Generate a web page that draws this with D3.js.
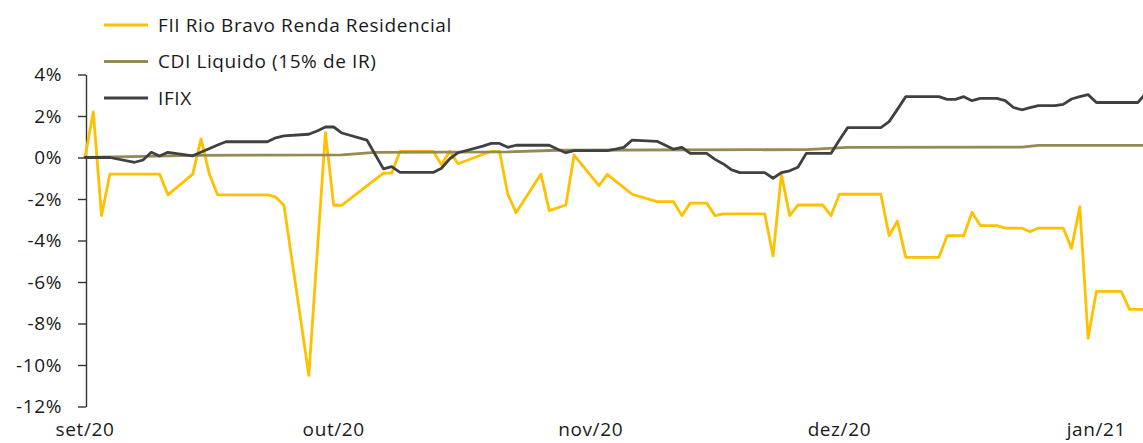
<!DOCTYPE html>
<html><head><meta charset="utf-8">
<script src="https://cdn.jsdelivr.net/npm/d3@7"></script>
<style>body{margin:0;background:#fff} svg{display:block}</style>
</head><body><svg id="c" width="1143" height="443"></svg>
<script>
const seriesNames = ["FII Rio Bravo Renda Residencial", "CDI Liquido (15% de IR)", "IFIX"];
const seriesColors = ["#FFC000", "#948A54", "#404040"];
// one entry per calendar day of each month (null = no point, the line passes straight through)
const monthStarts = ["2020-09-01", "2020-10-01", "2020-11-01", "2020-12-01", "2021-01-01"];

const fiiSep = [0, 2.2, -2.8, -0.8, -0.8, -0.8, -0.8, -0.8, -0.8, -0.8, -1.8, null, null, -0.8, 0.9, -0.8, -1.8, -1.8, -1.8, -1.8, -1.8, -1.8, -1.8, -1.9, -2.3, null, null, -10.5, null, 1.2];
const fiiOct = [-2.3, -2.3, null, null, null, null, -0.75, -0.75, 0.3, 0.3, 0.3, 0.3, 0.3, -0.35, 0.3, -0.3, null, null, null, 0.3, 0.3, -1.77, -2.66, null, null, -0.8, -2.56, null, -2.29, 0.12, null];
const fiiNov = [null, -1.36, -0.81, null, null, -1.77, null, null, -2.13, -2.13, -2.13, -2.8, -2.2, -2.2, -2.2, -2.8, -2.72, -2.72, -2.72, -2.72, -2.72, -2.72, -4.75, -0.8, -2.8, -2.29, -2.29, -2.29, -2.29, -2.8];
const fiiDec = [-1.77, -1.77, -1.77, -1.77, -1.77, -1.77, -3.77, -3.06, -4.81, -4.81, -4.81, -4.81, -4.81, -3.77, -3.77, -3.77, -2.64, -3.28, -3.28, -3.28, -3.4, -3.4, -3.4, -3.58, -3.4, -3.4, -3.4, -3.4, -4.38, -2.37, -8.71];
const fiiJan = [-6.45, -6.45, -6.45, -6.45, -7.32, -7.32, -7.32];

const cdiSep = [0, null, null, null, null, null, null, 0.05, null, null, null, null, null, 0.1, null, null, null, null, null, null, null, null, null, null, null, null, null, null, null, null];
const cdiOct = [null, 0.13, null, null, null, 0.25, null, null, null, null, null, null, null, null, null, null, null, null, null, null, null, 0.27, null, null, null, null, null, 0.35, null, null, null];
const cdiNov = [null, null, null, null, null, null, null, null, null, null, null, null, null, null, null, null, null, null, null, null, null, null, null, null, null, null, 0.38, null, null, null];
const cdiDec = [null, 0.49, null, null, null, null, null, null, null, null, null, null, null, null, null, null, null, null, null, null, null, null, 0.5, null, 0.58, null, null, null, null, null, null];
const cdiJan = [null, null, null, null, null, null, 0.58];

const ifixSep = [0, 0, 0, 0, null, null, -0.23, -0.12, 0.25, 0.07, 0.25, null, null, 0.08, null, null, 0.6, 0.76, 0.76, 0.76, 0.76, 0.76, 0.76, 0.95, 1.04, null, null, 1.12, 1.28, 1.47];
const ifixOct = [1.47, 1.18, null, null, 0.84, null, -0.55, -0.44, -0.72, -0.72, -0.72, -0.72, -0.72, -0.52, -0.06, 0.23, null, null, 0.55, 0.68, 0.68, 0.49, 0.59, 0.59, 0.59, 0.59, 0.59, 0.4, 0.23, 0.33, 0.33];
const ifixNov = [0.33, 0.33, 0.33, 0.4, 0.49, 0.84, null, null, 0.78, null, 0.4, 0.49, 0.2, 0.2, 0.2, -0.09, -0.31, -0.6, -0.73, -0.73, -0.73, -0.73, -1.0, -0.73, -0.64, -0.47, 0.2, 0.2, 0.2, 0.2];
const ifixDec = [0.84, 1.44, 1.44, 1.44, 1.44, 1.44, 1.73, 2.32, 2.93, 2.93, 2.93, 2.93, 2.93, 2.8, 2.8, 2.93, 2.74, 2.85, 2.85, 2.85, 2.74, 2.41, 2.3, 2.4, 2.5, 2.5, 2.5, 2.56, 2.82, 2.93, 3.03];
const ifixJan = [2.65, 2.65, 2.65, 2.65, 2.65, 2.65, 3.1];

const yTicks = [-12, -10, -8, -6, -4, -2, 0, 2, 4];
const xTickDates = ["2020-09-01", "2020-10-01", "2020-11-01", "2020-12-01", "2021-01-01"];
const xTickLabels = ["set/20", "out/20", "nov/20", "dez/20", "jan/21"];

const parse = d3.timeParse("%Y-%m-%d");
function build(months) {
  const out = [];
  months.forEach((arr, m) => {
    const s = parse(monthStarts[m]);
    arr.forEach((v, i) => { if (v !== null) out.push({ date: d3.timeDay.offset(s, i), v }); });
  });
  return out;
}
const series = [
  build([fiiSep, fiiOct, fiiNov, fiiDec, fiiJan]),
  build([cdiSep, cdiOct, cdiNov, cdiDec, cdiJan]),
  build([ifixSep, ifixOct, ifixNov, ifixDec, ifixJan])
];

const svg = d3.select("#c");
const font = "'Open Sans', Lato, sans-serif";
const fs = 19, ls = 0.6;
const x = d3.scaleTime().domain([parse("2020-09-01"), parse("2021-01-07")]).range([85, 85 + 128 * 8.29]);
const y = d3.scaleLinear().domain([-12, 4]).range([406.5, 74.5]);

// y axis
const ya = svg.append("g").attr("transform", "translate(86,0)")
  .call(d3.axisLeft(y).tickValues(yTicks).tickFormat(d => d + "%").tickSize(8).tickSizeOuter(0).tickPadding(16));
ya.select(".domain").attr("stroke", "#333").attr("stroke-width", 1.4);
ya.selectAll(".tick line").attr("stroke", "#333").attr("stroke-width", 1.4);
ya.selectAll(".tick text").attr("font-family", font).attr("font-size", fs).attr("letter-spacing", ls).attr("fill", "#1a1a1a");

// x labels
svg.append("g").selectAll("text").data(xTickDates).join("text")
  .attr("x", d => x(parse(d))).attr("y", 436).attr("text-anchor", "middle")
  .attr("font-family", font).attr("font-size", fs).attr("letter-spacing", ls).attr("fill", "#1a1a1a")
  .text((d, i) => xTickLabels[i]);

// lines
const line = d3.line().x(d => x(d.date)).y(d => y(d.v));
series.forEach((s, i) => {
  svg.append("path").datum(s).attr("d", line).attr("fill", "none")
    .attr("stroke", seriesColors[i]).attr("stroke-width", 2.8)
    .attr("stroke-linejoin", "round").attr("stroke-linecap", "round");
});

// legend
const lg = svg.append("g");
seriesNames.forEach((n, i) => {
  const yy = 25 + i * 36.5;
  lg.append("line").attr("x1", 104).attr("x2", 148).attr("y1", yy).attr("y2", yy)
    .attr("stroke", seriesColors[i]).attr("stroke-width", 2.8);
  lg.append("text").attr("x", 158).attr("y", yy + 6.8).attr("font-family", font)
    .attr("font-size", fs).attr("letter-spacing", ls).attr("fill", "#1a1a1a").text(n);
});
</script></body></html>
